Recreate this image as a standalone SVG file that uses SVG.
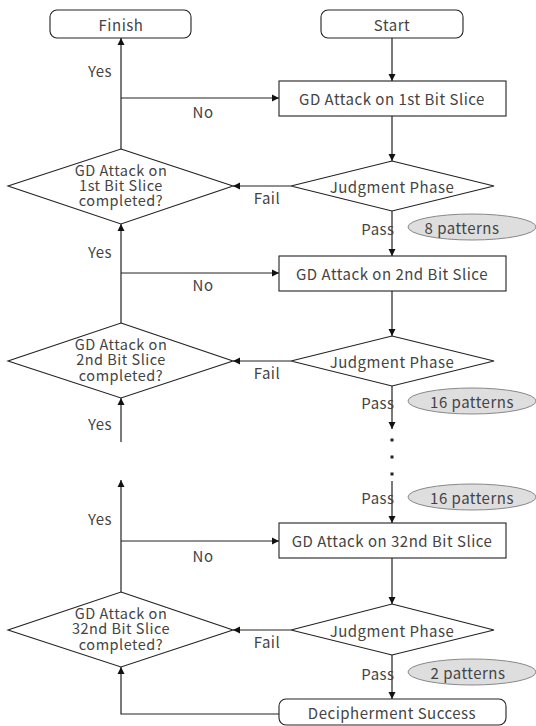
<svg xmlns="http://www.w3.org/2000/svg" width="536" height="726" viewBox="0 0 536 726">
<style>
text{font-family:"Noto Sans CJK JP","Noto Sans",sans-serif;font-size:15px;letter-spacing:0.5px;fill:#444;text-anchor:middle;dominant-baseline:central}
.d{font-size:14.5px;dominant-baseline:auto}
.n{fill:#fff;stroke:#222;stroke-width:1.1}
.e{fill:#dedede;stroke:#888;stroke-width:1}
.c{fill:none;stroke:#222;stroke-width:1.2}
</style>
<defs>
<marker id="a" markerWidth="8" markerHeight="8" refX="7" refY="4" orient="auto" markerUnits="userSpaceOnUse">
<path d="M0,0.5 L7,4 L0,7.5 Z" fill="#111"/>
</marker>
</defs>
<rect width="536" height="726" fill="#fff"/>
<g id="connectors">
<line class="c" x1="392" y1="38" x2="392" y2="81" marker-end="url(#a)"/>
<line class="c" x1="392" y1="116" x2="392" y2="161" marker-end="url(#a)"/>
<line class="c" x1="291" y1="186" x2="233" y2="186" marker-end="url(#a)"/>
<line class="c" x1="121" y1="149" x2="121" y2="38" marker-end="url(#a)"/>
<line class="c" x1="121" y1="98" x2="279" y2="98" marker-end="url(#a)"/>
<line class="c" x1="392" y1="211" x2="392" y2="256" marker-end="url(#a)"/>
<line class="c" x1="392" y1="291" x2="392" y2="336" marker-end="url(#a)"/>
<line class="c" x1="291" y1="361" x2="233" y2="361" marker-end="url(#a)"/>
<line class="c" x1="121" y1="323" x2="121" y2="224" marker-end="url(#a)"/>
<line class="c" x1="121" y1="273" x2="279" y2="273" marker-end="url(#a)"/>
<line class="c" x1="392" y1="386" x2="392" y2="429" marker-end="url(#a)"/>
<line class="c" x1="121" y1="442" x2="121" y2="398" marker-end="url(#a)"/>
<rect x="390.5" y="438.5" width="3" height="3" fill="#222"/>
<rect x="390.5" y="455.5" width="3" height="3" fill="#222"/>
<rect x="390.5" y="472.5" width="3" height="3" fill="#222"/>
<line class="c" x1="392" y1="481" x2="392" y2="523" marker-end="url(#a)"/>
<line class="c" x1="121" y1="592" x2="121" y2="480" marker-end="url(#a)"/>
<line class="c" x1="121" y1="541" x2="279" y2="541" marker-end="url(#a)"/>
<line class="c" x1="392" y1="558" x2="392" y2="604" marker-end="url(#a)"/>
<line class="c" x1="291" y1="630" x2="233" y2="630" marker-end="url(#a)"/>
<line class="c" x1="392" y1="655" x2="392" y2="699" marker-end="url(#a)"/>
<polyline class="c" points="279,714 121,714 121,667" marker-end="url(#a)"/>
<text x="100" y="70">Yes</text>
<text x="203" y="111">No</text>
<text x="267" y="197">Fail</text>
<text x="378" y="228">Pass</text>
<text x="100" y="251">Yes</text>
<text x="203" y="284">No</text>
<text x="267" y="372">Fail</text>
<text x="378" y="402">Pass</text>
<text x="100" y="423">Yes</text>
<text x="378" y="497">Pass</text>
<text x="100" y="518">Yes</text>
<text x="203" y="555">No</text>
<text x="267" y="641">Fail</text>
<text x="378" y="673">Pass</text>
</g>
<g id="finish"><rect class="n" x="50" y="10" width="141" height="28" rx="7"/><text x="121" y="24">Finish</text></g>
<g id="start"><rect class="n" x="321" y="10" width="142" height="28" rx="7"/><text x="392" y="24">Start</text></g>
<g id="attack1"><rect class="n" x="279" y="81" width="227" height="35"/><text x="392" y="98.5">GD Attack on 1st Bit Slice</text></g>
<g id="judge1"><polygon class="n" points="392,161 494,186 392,211 291,186"/><text x="392" y="186">Judgment Phase</text></g>
<g id="done1"><polygon class="n" points="121,149 233,186 121,224 8,186"/><text class="d" x="121" y="176"><tspan x="121" y="176">GD Attack on</tspan><tspan x="121" y="191">1st Bit Slice</tspan><tspan x="121" y="206">completed?</tspan></text></g>
<g id="p1"><ellipse class="e" cx="472" cy="227" rx="64" ry="13"/><text x="462" y="227">8 patterns</text></g>
<g id="attack2"><rect class="n" x="279" y="256" width="227" height="35"/><text x="392" y="273.5">GD Attack on 2nd Bit Slice</text></g>
<g id="judge2"><polygon class="n" points="392,336 494,361 392,386 291,361"/><text x="392" y="361">Judgment Phase</text></g>
<g id="done2"><polygon class="n" points="121,323 233,361 121,398 8,361"/><text class="d" x="121" y="350"><tspan x="121" y="350">GD Attack on</tspan><tspan x="121" y="365">2nd Bit Slice</tspan><tspan x="121" y="381">completed?</tspan></text></g>
<g id="p2"><ellipse class="e" cx="472" cy="401" rx="64" ry="13"/><text x="472" y="401">16 patterns</text></g>
<g id="p3"><ellipse class="e" cx="472" cy="497" rx="64" ry="13"/><text x="472" y="497">16 patterns</text></g>
<g id="attack32"><rect class="n" x="279" y="523" width="227" height="35"/><text x="392" y="540.5">GD Attack on 32nd Bit Slice</text></g>
<g id="judge32"><polygon class="n" points="392,604 494,630 392,655 291,630"/><text x="392" y="630">Judgment Phase</text></g>
<g id="done32"><polygon class="n" points="121,592 233,630 121,667 8,630"/><text class="d" x="121" y="619"><tspan x="121" y="619">GD Attack on</tspan><tspan x="121" y="634">32nd Bit Slice</tspan><tspan x="121" y="650">completed?</tspan></text></g>
<g id="p4"><ellipse class="e" cx="472" cy="672" rx="64" ry="13"/><text x="468" y="672">2 patterns</text></g>
<g id="success"><rect class="n" x="279" y="699" width="227" height="26" rx="7"/><text x="392" y="712">Decipherment Success</text></g>
</svg>
